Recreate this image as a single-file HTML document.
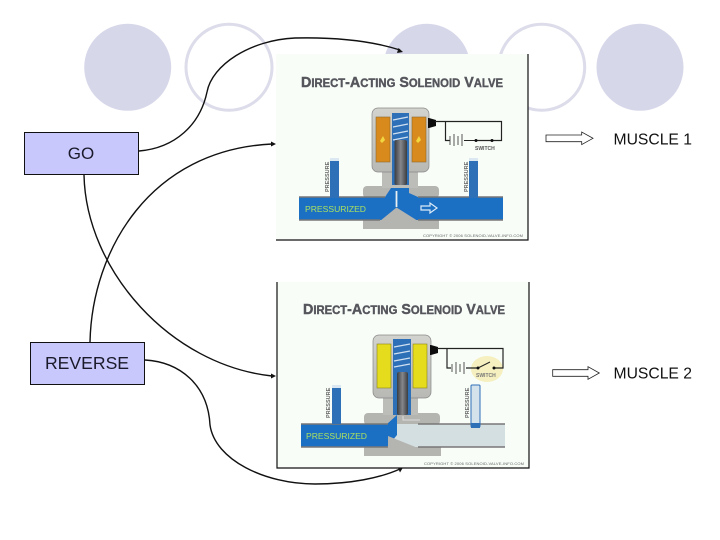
<!DOCTYPE html>
<html>
<head>
<meta charset="utf-8">
<style>
html,body{margin:0;padding:0;background:#fff;}
svg{display:block;}
text{font-family:"Liberation Sans",sans-serif;}
</style>
</head>
<body>
<svg width="720" height="540" viewBox="0 0 720 540" xmlns="http://www.w3.org/2000/svg">
<defs>
<filter id="soft" x="-2%" y="-2%" width="104%" height="104%"><feGaussianBlur stdDeviation="0.35"/></filter>
<linearGradient id="plug" x1="0" x2="1" y1="0" y2="0"><stop offset="0" stop-color="#3a3c40"/><stop offset="0.5" stop-color="#85878a"/><stop offset="1" stop-color="#3a3c40"/></linearGradient>
<linearGradient id="body" x1="0" x2="0" y1="0" y2="1"><stop offset="0" stop-color="#d2d2ce"/><stop offset="1" stop-color="#b8b8b4"/></linearGradient>
</defs>
<rect width="720" height="540" fill="#fff"/>
<!-- decorative circles -->
<circle cx="127.700" cy="67.300" r="43.500" fill="#d7d7ea"/>
<circle cx="229" cy="67.300" r="43" fill="none" stroke="#dcdcea" stroke-width="3"/>
<circle cx="426.700" cy="67.300" r="43.500" fill="#d7d7ea"/>
<circle cx="541.700" cy="67.300" r="43" fill="none" stroke="#dcdcea" stroke-width="3"/>
<circle cx="640" cy="67.300" r="43.500" fill="#d7d7ea"/>

<!-- valve 1 -->
<rect x="276" y="54" width="252" height="186" fill="#f8fdf8"/>
<g filter="url(#soft)">
<text x="301" y="87" font-size="14.600" font-weight="bold" fill="#55555c" stroke="#55555c" stroke-width="0.4" textLength="202" lengthAdjust="spacingAndGlyphs">D<tspan font-size="11.500">IRECT</tspan>-A<tspan font-size="11.500">CTING</tspan> S<tspan font-size="11.500">OLENOID</tspan> V<tspan font-size="11.500">ALVE</tspan></text>
<rect x="363" y="186" width="76" height="12" rx="4" fill="#b4b4b0"/>
<rect x="363" y="215" width="76" height="14" rx="4" fill="#b4b4b0"/>
<rect x="382" y="170" width="36" height="18" fill="#bcbcb8"/>
<rect x="372" y="108" width="57" height="64" rx="6" fill="url(#body)" stroke="#888" stroke-width="0.7"/>
<rect x="376" y="117" width="14" height="45" fill="#d98a1c" stroke="#8a6a30" stroke-width="0.6"/>
<rect x="412" y="117" width="14" height="45" fill="#d98a1c" stroke="#8a6a30" stroke-width="0.6"/>
<path d="M380 141l3-5 2 4-3 3zM416 141l3-5 2 4-3 3z" fill="#f2d640"/>
<rect x="392" y="113" width="17" height="72" fill="#2f6fb8"/>
<path d="M393 120l15-3M393 127l15-3M393 134l15-3M393 140l15-3" stroke="#cfe0f0" stroke-width="1.200"/>
<rect x="394.500" y="140" width="12.500" height="45" rx="2" fill="url(#plug)"/>
<rect x="299" y="197" width="204" height="23" fill="#1f6fc4"/>
<path d="M385 197L391 188H409V193L418 197z" fill="#1f6fc4"/>
<path d="M299 197H385M418 197H503M299 220H380M418 220H503" stroke="#777" stroke-width="1.600"/>
<path d="M380 221L396.500 207.500 418 221H439V229H363V221z" fill="#b4b4b0"/>
<path d="M396.500 191V207" stroke="#e8f0f2" stroke-width="1.800"/>
<rect x="330" y="158" width="9" height="40" fill="#2f70b8"/>
<rect x="330" y="158" width="9" height="3" fill="#dbe8f2"/>
<rect x="469" y="158" width="9" height="40" fill="#2f70b8"/>
<rect x="469" y="158" width="9" height="3" fill="#dbe8f2"/>
<text transform="translate(329 192) rotate(-90)" font-size="5.500" font-weight="bold" fill="#666">PRESSURE</text>
<text transform="translate(468 192) rotate(-90)" font-size="5.500" font-weight="bold" fill="#666">PRESSURE</text>
<text x="305" y="212" font-size="8.600" fill="#a8e060" textLength="61">PRESSURIZED</text>
<path d="M421 206h9v-3l7 5-7 5v-3h-9z" fill="#1f6fc4" stroke="#dcecf8" stroke-width="1.200"/>
<path d="M429 118h-1v10h1l7-2v-6z" fill="#111"/>
<path d="M435 121.500H501.500V140.500H476M445.500 121.500V140.500H450" fill="none" stroke="#222" stroke-width="1.200"/>
<path d="M450 136v9M454 134v12M458 136v9M462 134v12" stroke="#444" stroke-width="0.900"/>
<path d="M464 140.500H476" stroke="#222" stroke-width="1"/>
<circle cx="476" cy="140.500" r="1.500" fill="#111"/><circle cx="492" cy="140.500" r="1.500" fill="#111"/>
<text x="475" y="150" font-size="5" font-weight="bold" fill="#555">SWITCH</text>
<text x="423" y="237" font-size="4" fill="#666" textLength="100">COPYRIGHT © 2006 SOLENOID-VALVE-INFO.COM</text>
</g>
<path d="M528 54V240H276" fill="none" stroke="#111" stroke-width="1.200"/>

<!-- valve 2 -->
<rect x="277" y="282" width="252" height="186" fill="#f8fdf8"/>
<g filter="url(#soft)">
<text x="303" y="314" font-size="14.600" font-weight="bold" fill="#55555c" stroke="#55555c" stroke-width="0.4" textLength="202" lengthAdjust="spacingAndGlyphs">D<tspan font-size="11.500">IRECT</tspan>-A<tspan font-size="11.500">CTING</tspan> S<tspan font-size="11.500">OLENOID</tspan> V<tspan font-size="11.500">ALVE</tspan></text>
<rect x="364" y="413" width="76" height="12" rx="4" fill="#b4b4b0"/>
<rect x="364" y="442" width="77" height="14" rx="4" fill="#b4b4b0"/>
<rect x="383" y="397" width="35" height="18" fill="#bcbcb8"/>
<rect x="373" y="335" width="58" height="63" rx="6" fill="url(#body)" stroke="#888" stroke-width="0.7"/>
<rect x="377" y="344" width="14" height="44" fill="#e4dc1c" stroke="#8a8420" stroke-width="0.6"/>
<rect x="413" y="344" width="14" height="44" fill="#e4dc1c" stroke="#8a8420" stroke-width="0.6"/>
<rect x="393" y="339" width="18" height="76" fill="#2f6fb8"/>
<path d="M394 347l16-3M394 354l16-3M394 361l16-3M394 367l16-3" stroke="#cfe0f0" stroke-width="1.200"/>
<rect x="397" y="372" width="11" height="43" rx="2" fill="url(#plug)"/>
<rect x="301" y="424" width="204" height="23" fill="#d4dfe2"/>
<path d="M301 424H387L397 415V435L387 447H301z" fill="#1f6fc4"/>
<path d="M301 424H388M418 424H505M301 447H388M418 447H505" stroke="#777" stroke-width="1.600"/>
<path d="M388 448V436L418 448H441V456H364V448z" fill="#b4b4b0"/>
<path d="M403 416V420H420" fill="none" stroke="#ddd" stroke-width="1"/>
<rect x="332" y="385" width="9" height="39" fill="#2f70b8"/>
<rect x="332" y="385" width="9" height="3" fill="#dbe8f2"/>
<rect x="471" y="385" width="9" height="42" rx="1" fill="#d4e2ec" stroke="#2f70b8" stroke-width="1"/>
<rect x="471" y="423" width="9" height="5" fill="#2f70b8"/>
<text transform="translate(330 418) rotate(-90)" font-size="5.500" font-weight="bold" fill="#666">PRESSURE</text>
<text transform="translate(469 418) rotate(-90)" font-size="5.500" font-weight="bold" fill="#666">PRESSURE</text>
<text x="306" y="439" font-size="8.600" fill="#a8e060" textLength="61">PRESSURIZED</text>
<ellipse cx="487" cy="369" rx="16" ry="13" fill="#f6f0c0"/>
<path d="M431 345h-1v10h1l7-2v-6z" fill="#111"/>
<path d="M437 348.500H503V368H494M477 368H466M447 348.500V368H451" fill="none" stroke="#222" stroke-width="1.200"/>
<path d="M452 364v8M456 362v12M460 364v8M464 362v12" stroke="#444" stroke-width="0.900"/>
<path d="M478 368l12-6" stroke="#222" stroke-width="1"/>
<circle cx="478" cy="368" r="1.500" fill="#111"/><circle cx="494" cy="368" r="1.500" fill="#111"/>
<text x="476" y="377" font-size="5" font-weight="bold" fill="#777">SWITCH</text>
<text x="424" y="465" font-size="4" fill="#666" textLength="100">COPYRIGHT © 2006 SOLENOID-VALVE-INFO.COM</text>
</g>
<path d="M277 282V468H529V282" fill="none" stroke="#111" stroke-width="1.200"/>

<!-- boxes -->
<rect x="24.500" y="132.500" width="114" height="42" fill="#c8c8fc" stroke="#111" stroke-width="1"/>
<text x="81" y="159" font-size="17" text-anchor="middle" fill="#1a1a2a">GO</text>
<rect x="30.500" y="342.500" width="114" height="42" fill="#c8c8fc" stroke="#111" stroke-width="1"/>
<text x="87" y="369" font-size="17.600" text-anchor="middle" fill="#1a1a2a">REVERSE</text>

<!-- connectors -->
<g fill="none" stroke="#111" stroke-width="1.400">
<path d="M139 151C175 148 200 125 207 92C212 65 250 40 295 38C340 37 375 42 400 50"/>
<path d="M90 342C92 250 150 150 272 144"/>
<path d="M84 175C86 270 170 365 272 376"/>
<path d="M145 360C180 362 208 385 210 425C215 460 265 484 315 484C350 484 380 478 400 469"/>
</g>
<g fill="#111">
<path d="M403 52l-6 1 1.500-5z"/>
<path d="M276 144l-5 2.500v-5z"/>
<path d="M276 376l-5 2.500v-5z"/>
<path d="M403 467.500l-3 5-2-4.500z"/>
</g>

<!-- hollow arrows and labels -->
<path d="M546 135H581.700V132L593 138.300 581.700 144.600V141.700H546z" fill="#fff" stroke="#222" stroke-width="0.800"/>
<path d="M552.700 369.700H588V366.700L599.300 373 588 379.300V376.300H552.700z" fill="#fff" stroke="#222" stroke-width="0.800"/>
<text x="613.500" y="144.500" font-size="15.700" fill="#111">MUSCLE 1</text>
<text x="613.500" y="378.700" font-size="15.700" fill="#111">MUSCLE 2</text>
</svg>
</body>
</html>
